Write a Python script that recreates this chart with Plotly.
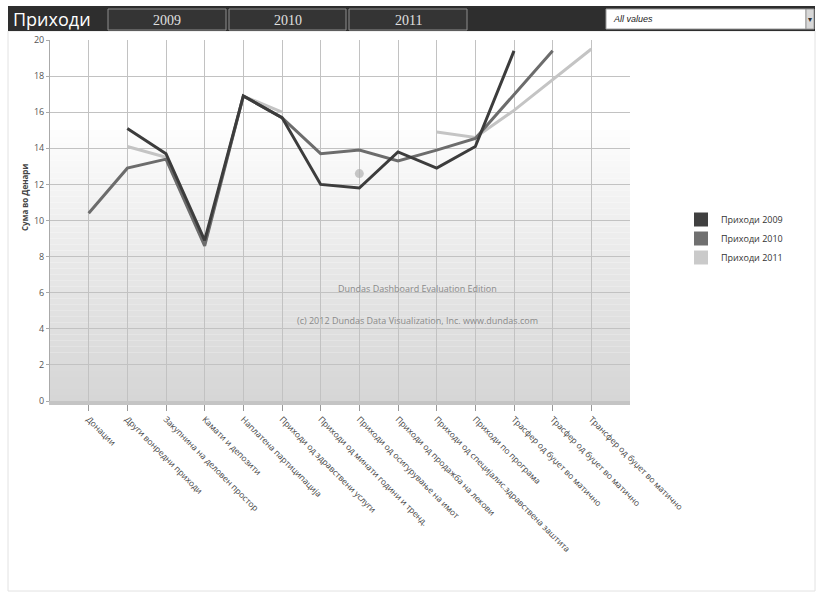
import plotly.graph_objects as go

W, H = 819, 594
L, R, T, B = 50, 189, 40, 193
PW, PH = W - L - R, H - T - B

categories = [
    "Донации",
    "Други вонредни приходи",
    "Закупнина на деловен простор",
    "Камати и депозити",
    "Наплатена партиципација",
    "Приходи од здравствени услуги",
    "Приходи од минати години и тренд.",
    "Приходи од осигурување на имот",
    "Приходи од продажба на лекови",
    "Приходи од специјалис.здравствена заштита",
    "Приходи по програма",
    "Трасфер од буџет во матично",
    "Трасфер од буџет во матично",
    "Трансфер од буџет во матично",
]
x_idx = list(range(len(categories)))

s2009 = [None, 15.1, 13.7, 8.9, 16.9, 15.7, 12.0, 11.8, 13.8, 12.9, 14.1, 19.4, None, None]
s2010 = [10.4, 12.9, 13.4, 8.6, 16.9, 15.7, 13.7, 13.9, 13.3, 13.9, 14.55, 16.95, 19.4, None]
s2011 = [None, 14.1, 13.5, 8.7, 16.9, 16.0, None, 12.6, None, 14.9, 14.6, 16.1, 17.8, 19.5]

series_names = ["Приходи 2009", "Приходи 2010", "Приходи 2011"]
series_vals = [s2009, s2010, s2011]
colors = ["#3c3c3c", "#6c6c6c", "#c4c4c4"]
legend_colors = ["#404040", "#707070", "#cacaca"]

y_ticks = list(range(0, 21, 2))
year_buttons = ["2009", "2010", "2011"]


def px_x(px):
    return (px - L) / PW


def px_y(py):
    return (H - B - py) / PH


fig = go.Figure()

# draw lighter series first
for name, vals, col in reversed(list(zip(series_names, series_vals, colors))):
    sizes = []
    for i, v in enumerate(vals):
        left = vals[i - 1] if i > 0 else None
        right = vals[i + 1] if i < len(vals) - 1 else None
        sizes.append(9 if (v is not None and left is None and right is None) else 0)
    fig.add_trace(go.Scatter(
        x=x_idx, y=vals, mode="lines+markers", name=name, showlegend=False,
        line=dict(color=col, width=3),
        marker=dict(size=sizes, color="#b0b0b0", line=dict(width=0)),
        connectgaps=False, hoverinfo="skip",
    ))

for name, col in zip(series_names, legend_colors):
    fig.add_trace(go.Scatter(
        x=[None], y=[None], mode="markers", name=name,
        marker=dict(symbol="square", size=14, color=col),
    ))

shapes = []
# gradient background bands
n = 60
for k in range(n):
    y0 = 20 * k / n
    y1 = 20 * (k + 1) / n
    vm = (y0 + y1) / 2
    if vm >= 15:
        c = 255
    else:
        c = int(round(214 + (253 - 214) * (vm / 15) ** 1.1))
    shapes.append(dict(type="rect", xref="x", yref="y", x0=-1, x1=14, y0=y0, y1=y1,
                       fillcolor=f"rgb({c},{c},{c})", line=dict(width=0), layer="below"))

# outer frame
shapes.append(dict(type="rect", xref="paper", yref="paper",
                   x0=px_x(8), x1=px_x(815), y0=px_y(591), y1=px_y(31),
                   line=dict(color="#e2e2e2", width=1), fillcolor="rgba(0,0,0,0)", layer="below"))
# header bar
shapes.append(dict(type="rect", xref="paper", yref="paper",
                   x0=px_x(8), x1=px_x(815), y0=px_y(31), y1=px_y(6),
                   line=dict(width=0), fillcolor="#2e2e2e"))
btn_x = [(108, 226), (229, 346), (349, 467)]
for (a, b) in btn_x:
    shapes.append(dict(type="rect", xref="paper", yref="paper",
                       x0=px_x(a), x1=px_x(b), y0=px_y(30), y1=px_y(9),
                       line=dict(color="#8c8c8c", width=1), fillcolor="#343434"))
# dropdown
shapes.append(dict(type="rect", xref="paper", yref="paper",
                   x0=px_x(606), x1=px_x(806), y0=px_y(29), y1=px_y(9),
                   line=dict(color="#9a9a9a", width=1), fillcolor="#ffffff"))
shapes.append(dict(type="rect", xref="paper", yref="paper",
                   x0=px_x(806), x1=px_x(814), y0=px_y(29), y1=px_y(9),
                   line=dict(color="#9a9a9a", width=1), fillcolor="#d8d8d8"))

annotations = [
    dict(text="Приходи", xref="paper", yref="paper", x=px_x(11), y=px_y(18.5),
         xanchor="left", yanchor="middle", showarrow=False,
         font=dict(family="Open Sans, sans-serif", size=18, color="#ffffff")),
    dict(text="<i>All values</i>", xref="paper", yref="paper", x=px_x(611), y=px_y(19),
         xanchor="left", yanchor="middle", showarrow=False,
         font=dict(family="Liberation Sans Narrow, Liberation Sans, sans-serif", size=9, color="#222222"),
         ),
    dict(text="▾", xref="paper", yref="paper", x=px_x(810), y=px_y(19),
         xanchor="center", yanchor="middle", showarrow=False,
         font=dict(size=8, color="#333333")),
    dict(text="<b>Сума во Денари</b>", xref="paper", yref="paper", x=px_x(24), y=px_y(198),
         xanchor="center", yanchor="middle", showarrow=False, textangle=-90,
         font=dict(family="Open Sans, sans-serif", size=8, color="#444444")),
    dict(text="Dundas Dashboard Evaluation Edition", xref="paper", yref="paper",
         x=px_x(417), y=px_y(288), xanchor="center", yanchor="middle", showarrow=False,
         font=dict(family="Open Sans, sans-serif", size=9, color="#8a8a8a")),
    dict(text="(c) 2012 Dundas Data Visualization, Inc. www.dundas.com", xref="paper", yref="paper",
         x=px_x(417), y=px_y(320), xanchor="center", yanchor="middle", showarrow=False,
         font=dict(family="Open Sans, sans-serif", size=9, color="#8a8a8a")),
]
for lbl, (a, b) in zip(year_buttons, btn_x):
    annotations.append(dict(text=lbl, xref="paper", yref="paper", x=px_x((a + b) / 2), y=px_y(20),
                            xanchor="center", yanchor="middle", showarrow=False,
                            font=dict(family="Liberation Serif, serif", size=14, color="#e0e0e0")))

fig.update_layout(
    width=W, height=H,
    margin=dict(l=L, r=R, t=T, b=B, autoexpand=False),
    paper_bgcolor="#ffffff", plot_bgcolor="#ffffff",
    shapes=shapes, annotations=annotations,
    showlegend=True,
    legend=dict(x=px_x(681), y=px_y(205), xanchor="left", yanchor="top",
                font=dict(family="Open Sans, sans-serif", size=9, color="#333333"),
                tracegroupgap=0, itemwidth=30, bgcolor="rgba(0,0,0,0)"),
    xaxis=dict(range=[-1, 14], tickmode="array", tickvals=x_idx, ticktext=categories,
               tickangle=45, showgrid=True, gridcolor="#c2c2c2", gridwidth=1,
               zeroline=False, showline=True, linecolor="#c4c4c4", linewidth=4,
               ticks="outside", ticklen=6, tickcolor="#999999",
               tickfont=dict(family="Open Sans, sans-serif", size=8.5, color="#444444"),
               fixedrange=True),
    yaxis=dict(range=[0, 20], tickmode="array", tickvals=y_ticks,
               showgrid=True, gridcolor="#c2c2c2", gridwidth=1, zeroline=False,
               showline=True, linecolor="#aaaaaa", linewidth=1,
               ticks="outside", ticklen=3, tickcolor="#aaaaaa",
               tickfont=dict(family="Open Sans, sans-serif", size=9, color="#555555"),
               fixedrange=True),
)

fig.write_html("out.html")
